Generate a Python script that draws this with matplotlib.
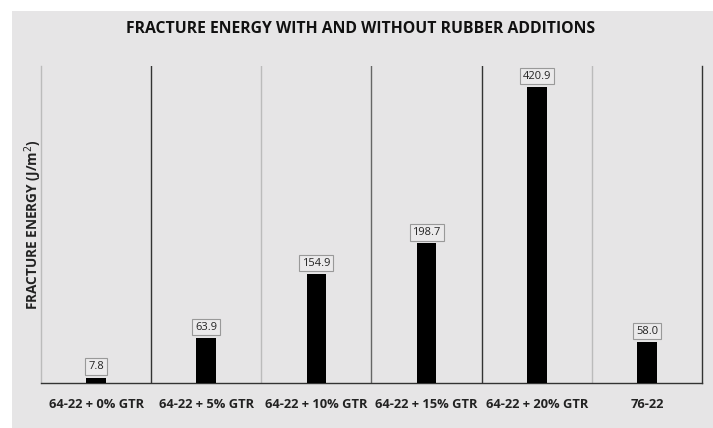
import numpy as np
import matplotlib
matplotlib.use('Agg')
from matplotlib import pyplot as plt
from matplotlib.patches import Rectangle

plt.rcParams['font.family'] = ['Open Sans', 'DejaVu Sans']

categories = ['64-22 + 0% GTR', '64-22 + 5% GTR', '64-22 + 10% GTR',
              '64-22 + 15% GTR', '64-22 + 20% GTR', '76-22']
energy = [7.8, 63.9, 154.9, 198.7, 420.9, 58.0]

bg = '#e6e5e6'
fig = plt.figure(figsize=(7.13, 4.28), dpi=100)
# grey panel behind the chart, leaving a thin white margin top/left
fig.patches.append(Rectangle((12 / 713, 0), 1, 1 - 11 / 428, transform=fig.transFigure,
                             facecolor=bg, edgecolor='none', zorder=-5))

ax = fig.add_axes([41 / 713, 1 - 383 / 428, 661 / 713, 317 / 428])
ax.set_zorder(2)
ax.set_facecolor(bg)

x = np.arange(len(categories))
ax.bar(x, energy, width=0.18, color='black', zorder=3)

for xi, v in zip(x, energy):
    ax.annotate('{:.1f}'.format(v), (xi, v), xytext=(0, 4), textcoords='offset points',
                ha='center', va='bottom', fontsize=8, color='#222222',
                bbox=dict(boxstyle='square,pad=0.25', fc='#ebeaeb', ec='#999999', lw=0.8))

# separators between categories
sep_colors = ['#333333', '#bbbbbb', '#666666', '#333333', '#bbbbbb']
for i, c in enumerate(sep_colors):
    ax.axvline(i + 0.5, color=c, lw=1.0, zorder=1)

ax.set_xlim(-0.5, len(categories) - 0.5)
ax.set_ylim(0, 451)
ax.set_xticks(x)
ax.set_xticklabels(categories, fontsize=9.3, fontweight='bold', color='#222222')
ax.tick_params(axis='x', length=0, pad=11)
ax.set_yticks([])

ax.spines['top'].set_visible(False)
ax.spines['left'].set_color('#bbbbbb')
ax.spines['right'].set_color('#333333')
ax.spines['bottom'].set_color('#333333')
for s in ax.spines.values():
    s.set_linewidth(1.0)

ax.set_ylabel('FRACTURE ENERGY (J/m$^2$)', fontsize=9.8, fontweight='bold', color='#222222')
ax.yaxis.set_label_coords(3 / 661, 0.5)
fig.text(361 / 713, 1 - 29 / 428, 'FRACTURE ENERGY WITH AND WITHOUT RUBBER ADDITIONS',
         ha='center', va='center', fontsize=11.3, fontweight='bold', color='#111111')

plt.savefig('out.png', dpi=100)
